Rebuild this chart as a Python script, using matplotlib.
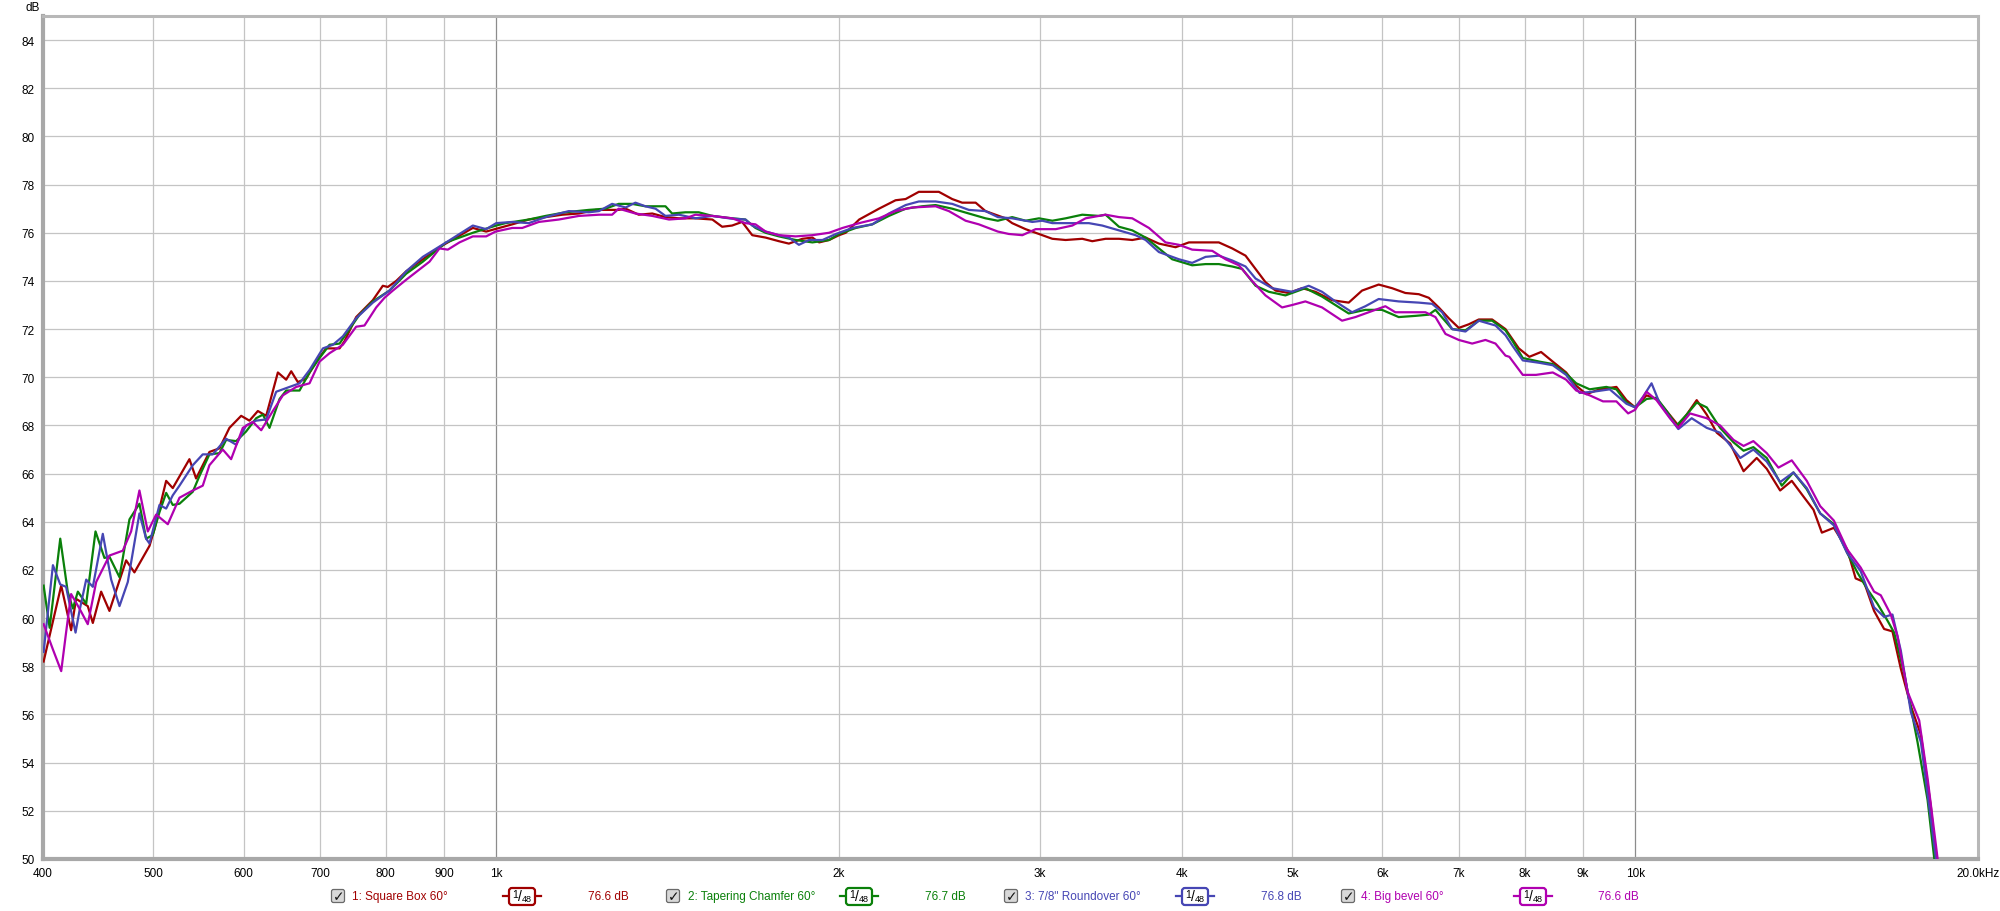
import matplotlib
matplotlib.use("Agg")
import matplotlib.pyplot as plt
from matplotlib.patches import FancyBboxPatch
from matplotlib.ticker import NullLocator

# ---------------- data ----------------
freq_square = [400.5, 415.0, 423.4, 427.7, 437.9, 442.4, 449.9, 457.5, 473.2, 481.2, 496.1, 501.1,
               513.1, 520.0, 537.8, 545.1, 560.0, 571.5, 583.1, 597.1, 607.2, 617.6, 628.1, 643.1,
               654.0, 660.7, 669.6, 681.0, 694.9, 709.1, 728.5, 735.9, 753.4, 779.2, 795.1, 803.2,
               816.9, 833.6, 862.1, 891.6, 922.2, 953.8, 979.9, 1033, 1068, 1105, 1143, 1182, 1223,
               1281, 1299, 1334, 1371, 1408, 1447, 1496, 1548, 1579, 1611, 1644, 1678, 1724, 1771,
               1807, 1857, 1895, 1921, 1960, 2000, 2027, 2083, 2168, 2242, 2288, 2350, 2447, 2514,
               2565, 2636, 2689, 2800, 2838, 2916, 2996, 3078, 3162, 3270, 3337, 3428, 3522, 3618,
               3717, 3818, 3949, 4057, 4196, 4310, 4428, 4549, 4642, 4736, 4833, 4964, 5100, 5239,
               5418, 5604, 5757, 5954, 6117, 6284, 6457, 6589, 6723, 6861, 7001, 7144, 7290, 7489,
               7694, 7904, 8074, 8268, 8466, 8698, 8877, 9060, 9308, 9628, 9826, 10000, 10233, 10442,
               10656, 10912, 11098, 11325, 11557, 11794, 12118, 12451, 12786, 13048, 13406, 13725,
               14053, 14341, 14586, 14945, 15355, 15617, 15884, 16210, 16542, 16824, 17111, 17462,
               17820, 18185, 18371]
db_square = [58.2, 61.35, 59.5, 60.8, 60.5, 59.8, 61.1, 60.3, 62.4, 61.9, 63.0, 63.7,
             65.7, 65.4, 66.6, 65.8, 66.9, 67.05, 67.9, 68.4, 68.2, 68.6, 68.4, 70.2,
             69.9, 70.25, 69.8, 69.95, 70.65, 71.2, 71.2, 71.5, 72.5, 73.2, 73.8, 73.75,
             74.0, 74.4, 74.9, 75.4, 75.8, 76.2, 76.05, 76.35, 76.55, 76.65, 76.75, 76.8, 76.95,
             76.95, 77.0, 76.75, 76.8, 76.65, 76.6, 76.6, 76.55, 76.25, 76.3, 76.45, 75.9, 75.8, 75.65,
             75.55, 75.75, 75.8, 75.6, 75.7, 75.9, 76.0, 76.55, 77.0, 77.35, 77.4, 77.7, 77.7, 77.4,
             77.25, 77.25, 76.9, 76.6, 76.4, 76.15, 75.95, 75.75, 75.7, 75.75, 75.65, 75.75, 75.75, 75.7,
             75.8, 75.55, 75.4, 75.6, 75.6, 75.6, 75.35, 75.05, 74.5, 73.95, 73.6, 73.5, 73.7, 73.55,
             73.2, 73.1, 73.6, 73.85, 73.7, 73.5, 73.45, 73.3, 72.9, 72.45, 72.05, 72.2, 72.4, 72.4,
             72.0, 71.2, 70.85, 71.05, 70.65, 70.2, 69.65, 69.3, 69.5, 69.6, 69.05, 68.75, 69.25, 69.1,
             68.6, 68.0, 68.45, 69.05, 68.45, 67.7, 67.25, 66.1, 66.65, 66.2, 65.3, 65.7,
             65.05, 64.5, 63.55, 63.75, 62.85, 61.65, 61.5, 60.3, 59.55, 59.45, 57.9, 56.35,
             55.15, 52.15, 50.0]

freq_chamfer = [400.5, 405.4, 414.2, 420.5, 424.9, 429.2, 436.5, 444.8, 452.9, 457.5, 466.9, 476.4,
                486.1, 492.7, 499.4, 506.2, 513.1, 520.0, 527.1, 541.5, 548.8, 560.0, 571.5, 579.2,
                591.1, 603.1, 615.5, 623.9, 632.3, 645.3, 654.0, 671.9, 685.6, 699.6, 713.9, 728.5,
                743.4, 758.5, 779.2, 805.9, 833.6, 862.1, 903.7, 953.8, 1000, 1019, 1068, 1105, 1150,
                1206, 1247, 1281, 1316, 1352, 1389, 1408, 1427, 1466, 1506, 1548, 1611, 1655, 1689,
                1724, 1771, 1832, 1895, 1960, 2000, 2069, 2139, 2212, 2288, 2366, 2431, 2514, 2600,
                2689, 2757, 2838, 2916, 2996, 3078, 3162, 3270, 3382, 3428, 3522, 3618, 3717, 3818,
                3922, 4084, 4196, 4310, 4428, 4518, 4642, 4768, 4931, 5134, 5310, 5604, 5796, 5994,
                6200, 6413, 6589, 6678, 6908, 7096, 7290, 7489, 7694, 7806, 7968, 8241, 8466, 8698,
                8877, 9122, 9435, 9628, 9826, 10000, 10233, 10442, 10656, 10875, 11098, 11325, 11557,
                11874, 12200, 12451, 12700, 13048, 13451, 13771, 14148, 14537, 14945, 15355, 15670,
                15992, 16320, 16654, 16881, 17227, 17699, 18062, 18309]
db_chamfer = [61.35, 59.6, 63.3, 61.1, 60.4, 61.1, 60.6, 63.6, 62.5, 62.55, 61.7, 64.1,
              64.75, 63.3, 63.45, 64.4, 65.2, 64.7, 64.75, 65.25, 65.9, 66.8, 66.85, 67.4,
              67.35, 67.75, 68.3, 68.45, 67.9, 69.1, 69.45, 69.45, 70.2, 70.8, 71.35, 71.4,
              72.0, 72.6, 73.15, 73.6, 74.3, 74.8, 75.6, 76.0, 76.3, 76.4, 76.55, 76.7, 76.85,
              76.95, 77.0, 77.2, 77.2, 77.1, 77.1, 77.1, 76.8, 76.85, 76.85, 76.7, 76.6, 76.55, 76.2,
              76.0, 75.85, 75.7, 75.6, 75.7, 75.95, 76.2, 76.35, 76.7, 77.0, 77.1, 77.15, 77.0, 76.8,
              76.6, 76.5, 76.65, 76.5, 76.6, 76.5, 76.6, 76.75, 76.7, 76.75, 76.25, 76.1, 75.8, 75.35,
              74.9, 74.65, 74.7, 74.7, 74.6, 74.5, 73.8, 73.55, 73.4, 73.7, 73.35, 72.65, 72.8, 72.8,
              72.5, 72.55, 72.6, 72.8, 72.0, 71.95, 72.35, 72.35, 71.95, 71.5, 70.8, 70.65, 70.55, 70.15,
              69.75, 69.5, 69.6, 69.5, 68.95, 68.75, 69.1, 69.15, 68.6, 68.0, 68.45, 68.95, 68.75,
              67.9, 67.3, 66.95, 67.1, 66.65, 65.5, 66.05, 65.35, 64.35, 63.9, 62.7, 61.9,
              61.2, 60.6, 59.9, 59.4, 57.7, 54.85, 52.45, 50.0]

freq_roundover = [400.5, 408.1, 414.2, 419.1, 427.2, 430.6, 436.5, 442.4, 451.4, 459.1, 466.9, 474.8,
                  486.1, 492.7, 496.1, 506.2, 513.1, 520.0, 527.1, 541.5, 552.5, 563.8, 579.2, 591.1,
                  603.1, 615.5, 628.1, 640.9, 654.0, 671.9, 685.6, 704.4, 718.8, 733.4, 753.4, 779.2,
                  805.9, 833.6, 862.1, 903.7, 953.8, 979.9, 1000, 1033, 1068, 1105, 1158, 1206, 1231,
                  1264, 1299, 1325, 1352, 1380, 1408, 1447, 1496, 1548, 1601, 1655, 1678, 1724, 1771,
                  1807, 1844, 1882, 1934, 1987, 2055, 2139, 2212, 2288, 2350, 2431, 2514, 2600, 2689,
                  2757, 2838, 2956, 3016, 3078, 3205, 3314, 3405, 3522, 3642, 3717, 3818, 3976, 4084,
                  4196, 4310, 4428, 4549, 4642, 4800, 4998, 5169, 5310, 5455, 5642, 5796, 5954, 6200,
                  6457, 6633, 6769, 6908, 7096, 7290, 7540, 7694, 7806, 7968, 8241, 8466, 8698, 8938,
                  9184, 9499, 9826, 10000, 10164, 10337, 10513, 10912, 11211, 11557, 11874, 12367,
                  12700, 13048, 13406, 13771, 14148, 14537, 14945, 15355, 15777, 16210, 16542, 16824,
                  17111, 17462, 17820, 18124, 18371]
db_roundover = [58.6, 62.2, 61.4, 61.3, 59.4, 60.3, 61.6, 61.3, 63.5, 61.6, 60.5, 61.5,
                64.35, 63.3, 63.1, 64.7, 64.55, 65.1, 65.5, 66.35, 66.8, 66.8, 67.45, 67.2,
                68.0, 68.2, 68.25, 69.4, 69.55, 69.75, 70.3, 71.2, 71.35, 71.7, 72.45, 73.1,
                73.6, 74.4, 75.0, 75.6, 76.3, 76.15, 76.4, 76.45, 76.4, 76.65, 76.9, 76.85, 76.9,
                77.2, 77.05, 77.25, 77.1, 77.0, 76.7, 76.75, 76.6, 76.7, 76.6, 76.55, 76.3, 76.05, 75.9,
                75.8, 75.5, 75.7, 75.7, 75.95, 76.2, 76.35, 76.8, 77.15, 77.3, 77.3, 77.2, 76.95, 76.9,
                76.65, 76.6, 76.45, 76.5, 76.4, 76.4, 76.4, 76.3, 76.1, 75.9, 75.7, 75.2, 74.9, 74.75,
                75.0, 75.05, 74.85, 74.6, 74.1, 73.7, 73.55, 73.8, 73.55, 73.15, 72.7, 72.95, 73.25, 73.15,
                73.1, 73.05, 72.7, 72.0, 71.9, 72.35, 72.15, 71.75, 71.3, 70.7, 70.6, 70.5, 70.1, 69.35,
                69.4, 69.5, 68.9, 68.75, 69.2, 69.75, 68.9, 67.85, 68.3, 67.9, 67.7, 66.65,
                67.0, 66.5, 65.65, 66.05, 65.4, 64.35, 63.85, 62.7, 61.95, 60.45, 60.05, 60.15,
                58.65, 56.1, 54.85, 52.15, 50.0]

freq_bevel = [400.5, 408.1, 415.0, 419.1, 423.4, 430.6, 437.9, 445.4, 457.5, 470.0, 478.0, 486.1,
              494.4, 502.8, 514.8, 527.1, 541.5, 552.5, 560.0, 575.3, 585.1, 599.1, 611.3, 621.8,
              636.6, 649.6, 667.4, 685.6, 699.6, 713.9, 733.4, 753.4, 766.2, 784.5, 797.8, 811.4,
              833.6, 873.8, 891.6, 906.8, 928.4, 953.8, 979.9, 998.6, 1033, 1054, 1090, 1135, 1182,
              1231, 1264, 1281, 1325, 1371, 1418, 1466, 1496, 1548, 1611, 1655, 1689, 1724, 1771,
              1832, 1895, 1960, 2014, 2083, 2168, 2242, 2319, 2431, 2497, 2583, 2653, 2757, 2819,
              2897, 2976, 3099, 3205, 3292, 3428, 3522, 3618, 3742, 3870, 3976, 4084, 4253, 4369,
              4488, 4610, 4736, 4898, 4998, 5134, 5310, 5529, 5680, 5835, 6035, 6158, 6370, 6544,
              6678, 6815, 7001, 7193, 7389, 7540, 7694, 7754, 7968, 8184, 8466, 8698, 8877, 9122,
              9371, 9628, 9859, 10000, 10233, 10442, 10728, 10912, 11173, 11557, 11874, 12200,
              12451, 12700, 13048, 13360, 13725, 14148, 14537, 14945, 15355, 15777, 16210, 16431,
              16767, 16996, 17344, 17759, 18062, 18433]
db_bevel = [59.75, 58.7, 57.8, 59.4, 61.0, 60.4, 59.75, 61.5, 62.6, 62.8, 63.6, 65.3,
            63.6, 64.3, 63.9, 65.0, 65.3, 65.5, 66.35, 67.0, 66.6, 67.9, 68.15, 67.8,
            68.6, 69.25, 69.6, 69.75, 70.65, 71.0, 71.35, 72.1, 72.15, 72.9, 73.3, 73.6,
            74.05, 74.8, 75.35, 75.3, 75.6, 75.85, 75.85, 76.05, 76.2, 76.2, 76.45, 76.55, 76.7,
            76.75, 76.75, 77.0, 76.8, 76.7, 76.55, 76.6, 76.75, 76.7, 76.6, 76.4, 76.35, 76.05, 75.9,
            75.85, 75.9, 76.0, 76.2, 76.4, 76.6, 76.9, 77.05, 77.1, 76.9, 76.5, 76.35, 76.05, 75.95,
            75.9, 76.15, 76.15, 76.3, 76.6, 76.75, 76.65, 76.6, 76.2, 75.6, 75.5, 75.3, 75.25, 74.9,
            74.65, 74.0, 73.4, 72.9, 73.0, 73.15, 72.9, 72.35, 72.5, 72.7, 72.95, 72.7, 72.7, 72.7,
            72.5, 71.8, 71.55, 71.4, 71.55, 71.4, 70.9, 70.85, 70.1, 70.1, 70.2, 69.9, 69.45, 69.25,
            69.0, 69.0, 68.5, 68.65, 69.4, 69.05, 68.3, 67.9, 68.5, 68.3, 68.0, 67.4,
            67.15, 67.35, 66.85, 66.25, 66.55, 65.7, 64.65, 64.05, 62.85, 62.1, 61.1, 60.95,
            60.15, 59.25, 56.95, 55.75, 53.35, 50.0]

series_names = ["1: Square Box 60°", "2: Tapering Chamfer 60°", "3: 7/8\" Roundover 60°", "4: Big bevel 60°"]
series_levels = ["76.6 dB", "76.7 dB", "76.8 dB", "76.6 dB"]

x_ticks = [400, 500, 600, 700, 800, 900, 1000, 2000, 3000, 4000, 5000, 6000, 7000, 8000, 9000, 10000, 20000]
x_tick_labels = ["400", "500", "600", "700", "800", "900", "1k", "2k", "3k", "4k", "5k", "6k", "7k",
                 "8k", "9k", "10k", "20.0kHz"]
y_ticks = [50, 52, 54, 56, 58, 60, 62, 64, 66, 68, 70, 72, 74, 76, 78, 80, 82, 84]

# ---------------- style ----------------
colors = ["#A00000", "#0A800A", "#4646B4", "#B000B0"]
FONT = "Liberation Sans"
W, H = 2000, 912

fig = plt.figure(figsize=(W / 100, H / 100), dpi=100)
fig.patch.set_facecolor("white")

ax = fig.add_axes([43 / W, 1 - 860 / H, (1978 - 43) / W, (860 - 17) / H])
ax.set_xscale("log")
ax.set_xlim(400, 20000)
ax.set_ylim(50, 85)

series = [(freq_square, db_square), (freq_chamfer, db_chamfer),
          (freq_roundover, db_roundover), (freq_bevel, db_bevel)]
for (fx, fy), c in zip(series, colors):
    ax.plot(fx, fy, color=c, lw=1.6, solid_joinstyle="round", zorder=3)

ax.xaxis.set_minor_locator(NullLocator())
ax.yaxis.set_minor_locator(NullLocator())
ax.set_xticks(x_ticks)
ax.set_xticklabels(x_tick_labels, fontfamily=FONT, fontsize=8.5)
ax.set_yticks(y_ticks)
ax.set_yticklabels([str(v) for v in y_ticks], fontfamily=FONT, fontsize=8.5)
ax.tick_params(axis="both", length=0, colors="#000000")
ax.tick_params(axis="x", pad=6)
ax.tick_params(axis="y", pad=6)

ax.grid(True, color="#C4C4C4", lw=0.9, zorder=1)
for val, gl in zip(x_ticks, ax.xaxis.get_gridlines()):
    if val in (1000, 10000):
        gl.set_color("#8C8C8C")
for s in ax.spines.values():
    s.set_color("#B8B8B8")
    s.set_linewidth(2.2)
ax.spines["left"].set_color("#A8A8A8")
ax.spines["bottom"].set_color("#A8A8A8")
ax.spines["left"].set_linewidth(3)
ax.spines["bottom"].set_linewidth(3)

fig.text(25 / W, 1 - 8 / H, "dB", fontfamily=FONT, fontsize=8.5, va="center", ha="left")

# ---------------- legend row ----------------
ov = fig.add_axes([0, 0, 1, 1], facecolor="none")
ov.set_xlim(0, W)
ov.set_ylim(H, 0)
ov.axis("off")

ly = 897
check_x = [338, 673, 1011, 1348]
text_x = [352, 688, 1025, 1361]
sym_x = [503, 840, 1176, 1514]
level_x = [588, 925, 1261, 1598]
for i in range(4):
    c = colors[i]
    cx = check_x[i]
    ov.add_patch(FancyBboxPatch((cx - 6.5, ly - 6.5), 13, 13,
                                boxstyle="round,pad=0,rounding_size=2",
                                fc="#D8D8D8", ec="#6A6A6A", lw=0.9))
    ov.text(cx + 0.5, ly + 0.5, "✓", fontfamily="DejaVu Sans", fontsize=10, fontweight="bold",
            color="#141414", ha="center", va="center")
    ov.text(text_x[i], ly, series_names[i], fontfamily=FONT, fontsize=8.5, color=c,
            ha="left", va="center")
    sx = sym_x[i]
    ov.plot([sx, sx + 38], [ly, ly], color=c, lw=1.6)
    ov.add_patch(FancyBboxPatch((sx + 6, ly - 8), 26, 17,
                                boxstyle="round,pad=0,rounding_size=3",
                                fc="white", ec=c, lw=1.6, zorder=4))
    ov.text(sx + 12, ly - 2, "1", fontfamily=FONT, fontsize=7.5, color="#000000",
            ha="center", va="center", zorder=5)
    ov.text(sx + 17, ly, "/", fontfamily=FONT, fontsize=10, color="#000000",
            ha="center", va="center", zorder=5)
    ov.text(sx + 23.5, ly + 3, "48", fontfamily=FONT, fontsize=6.5, color="#000000",
            ha="center", va="center", zorder=5)
    ov.text(level_x[i], ly, series_levels[i], fontfamily=FONT, fontsize=8.5, color=c,
            ha="left", va="center")

fig.savefig("out.png", dpi=100, facecolor="white")
